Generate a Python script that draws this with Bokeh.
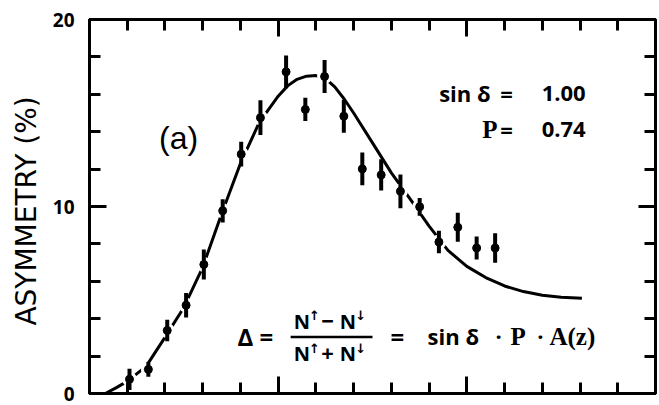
from bokeh.plotting import figure
from bokeh.models import LinearAxis, FixedTicker, Range1d, CustomJSTickFormatter
from bokeh.core.properties import value
from bokeh.embed import file_html
from bokeh.resources import INLINE

# ---- data ----
x_data = [1.06, 1.56, 2.06, 2.56, 3.03, 3.53, 4.02, 4.53, 5.21, 5.72,
          6.23, 6.74, 7.23, 7.73, 8.24, 8.75, 9.26, 9.76, 10.26, 10.75]
y_data = [0.76, 1.29, 3.37, 4.72, 6.90, 9.77, 12.80, 14.75, 17.20, 15.19,
          16.95, 14.83, 12.01, 11.69, 10.81, 9.98, 8.10, 8.89, 7.78, 7.78]
y_err = [0.57, 0.40, 0.57, 0.66, 0.80, 0.62, 0.66, 0.93, 0.88, 0.62,
         0.88, 0.88, 0.88, 0.84, 0.90, 0.48, 0.60, 0.77, 0.62, 0.79]

curve_x = [0.42, 0.7, 1.0, 1.5, 2.0, 2.5, 3.0, 3.5, 4.0, 4.5, 5.0, 5.25, 5.5, 5.75,
           6.0, 6.25, 6.5, 6.75, 7.0, 7.5, 8.0, 8.5, 9.0, 9.5, 10.0, 10.5, 11.0,
           11.5, 12.0, 12.5, 13.05]
curve_y = [0.0, 0.3, 0.65, 1.45, 3.0, 4.6, 6.75, 9.6, 12.3, 14.5, 15.9, 16.45, 16.8, 16.97,
           17.0, 16.85, 16.4, 15.75, 15.0, 13.4, 11.8, 10.4, 8.95, 7.65, 6.8, 6.2, 5.75,
           5.45, 5.25, 5.15, 5.1]

y_ticks_major = [0, 10, 20]
y_ticks_minor = [2, 4, 6, 8, 12, 14, 16, 18]
x_ticks_major = [0, 5, 10, 15]
x_ticks_minor = [1, 2, 3, 4, 6, 7, 8, 9, 11, 12, 13, 14]

y_label = "ASYMMETRY  (%)"
panel_label = "(a)"
sin_delta_value = "1.00"
p_value = "0.74"

SANS = value("Open Sans")
SERIF = value("Liberation Serif")

p = figure(width=659, height=405, x_range=Range1d(0, 15), y_range=Range1d(0, 20),
           output_backend="svg", toolbar_location=None,
           min_border_left=89, min_border_right=4, min_border_top=19, min_border_bottom=12)
p.grid.visible = False
p.outline_line_color = "black"
p.outline_line_width = 3
p.background_fill_color = "white"
p.border_fill_color = "white"


def style_axis(ax, major, minor, show_labels):
    ax.ticker = FixedTicker(ticks=major, minor_ticks=minor)
    ax.major_tick_in = 17
    ax.major_tick_out = 0
    ax.minor_tick_in = 11
    ax.minor_tick_out = 0
    ax.major_tick_line_width = 3
    ax.minor_tick_line_width = 3
    ax.major_tick_line_color = "black"
    ax.minor_tick_line_color = "black"
    ax.axis_line_width = 3
    ax.axis_line_color = "black"
    if show_labels:
        ax.major_label_text_font = "Open Sans"
        ax.major_label_text_font_style = "bold"
        ax.major_label_text_font_size = "19px"
        ax.major_label_text_color = "black"
        ax.major_label_standoff = 15
    else:
        ax.formatter = CustomJSTickFormatter(code="return ''")
        ax.major_label_text_font_size = "0px"
        ax.major_label_standoff = 0
        ax.axis_label_standoff = 0
        ax.axis_label_text_font_size = "0px"


style_axis(p.yaxis[0], y_ticks_major, y_ticks_minor, True)
p.yaxis[0].axis_label = y_label
p.yaxis[0].axis_label_text_font = "DejaVu Sans"
p.yaxis[0].axis_label_text_font_style = "normal"
p.yaxis[0].axis_label_text_font_size = "28px"
p.yaxis[0].axis_label_text_color = "black"
p.yaxis[0].axis_label_standoff = 7

style_axis(p.xaxis[0], x_ticks_major, x_ticks_minor, False)

right_ax = LinearAxis()
style_axis(right_ax, y_ticks_major, y_ticks_minor, False)
p.add_layout(right_ax, "right")
top_ax = LinearAxis()
style_axis(top_ax, x_ticks_major, x_ticks_minor, False)
p.add_layout(top_ax, "above")

# theory curve
p.line(curve_x, curve_y, line_color="black", line_width=3)
# white halo around points (gaps in the curve as in the print)
p.scatter(x_data, y_data, size=15, fill_color="white", line_color=None)
# error bars and points
y_lo = [y - e for y, e in zip(y_data, y_err)]
y_hi = [y + e for y, e in zip(y_data, y_err)]
p.segment(x0=x_data, y0=y_lo, x1=x_data, y1=y_hi, line_color="black", line_width=4)
p.scatter(x_data, y_data, size=8, marker="circle", fill_color="black", line_color="black")

# panel label
p.text(x=[2.36], y=[13.65], text=[panel_label], text_font=value("Liberation Sans"),
       text_font_size="32px", text_align="center", text_baseline="middle", text_color="black")

# parameters (top right)
p.text(x=[10.63], y=[16.06], text=["sin δ"], text_font=SANS, text_font_style="bold",
       text_font_size="22px", text_align="right", text_baseline="middle", text_color="black")
p.text(x=[10.81], y=[14.13], text=["P"], text_font=SERIF, text_font_style="bold",
       text_font_size="25px", text_align="right", text_baseline="middle", text_color="black")
p.text(x=[11.05, 11.05], y=[16.06, 14.13], text=["=", "="], text_font=SANS,
       text_font_style="bold", text_font_size="22px", text_align="center",
       text_baseline="middle", text_color="black")
p.text(x=[13.15, 13.15], y=[16.06, 14.13], text=[sin_delta_value, p_value], text_font=SANS,
       text_font_style="bold", text_font_size="22px", text_align="right",
       text_baseline="middle", text_color="black")

# formula
p.text(x=[4.13, 4.69, 8.16], y=[3.07, 3.07, 3.07], text=["Δ", "=", "="], text_font=SANS,
       text_font_style="bold", text_font_size="24px", text_align="center",
       text_baseline="middle", text_color="black")
p.text(x=[5.41, 6.63, 5.41, 6.63], y=[3.86, 3.86, 2.12, 2.12], text=["N", "N", "N", "N"],
       text_font=SANS, text_font_style="bold", text_font_size="20px", text_align="left",
       text_baseline="middle", text_color="black")
p.text(x=[6.31, 6.31], y=[3.86, 2.12], text=["−", "+"], text_font=SANS,
       text_font_style="bold", text_font_size="22px", text_align="center",
       text_baseline="middle", text_color="black")
p.text(x=[5.82, 7.04, 5.82, 7.04], y=[4.15, 4.15, 2.4, 2.4], text=["↑", "↓", "↑", "↓"],
       text_font=value("DejaVu Sans"), text_font_style="bold", text_font_size="13px",
       text_align="left", text_baseline="middle", text_color="black")
p.segment(x0=[5.33], y0=[3.02], x1=[7.5], y1=[3.02], line_color="black", line_width=2.5)
p.text(x=[8.96], y=[3.07], text=["sin δ"], text_font=SANS, text_font_style="bold",
       text_font_size="22px", text_align="left", text_baseline="middle", text_color="black")
p.text(x=[10.84, 11.95], y=[3.07, 3.07], text=["·", "·"], text_font=SANS,
       text_font_style="bold", text_font_size="22px", text_align="center",
       text_baseline="middle", text_color="black")
p.text(x=[11.16, 12.19], y=[3.07, 3.07], text=["P", "A(z)"], text_font=SERIF,
       text_font_style="bold", text_font_size="25px", text_align="left",
       text_baseline="middle", text_color="black")

open("out.html", "w").write(file_html(p, INLINE))
